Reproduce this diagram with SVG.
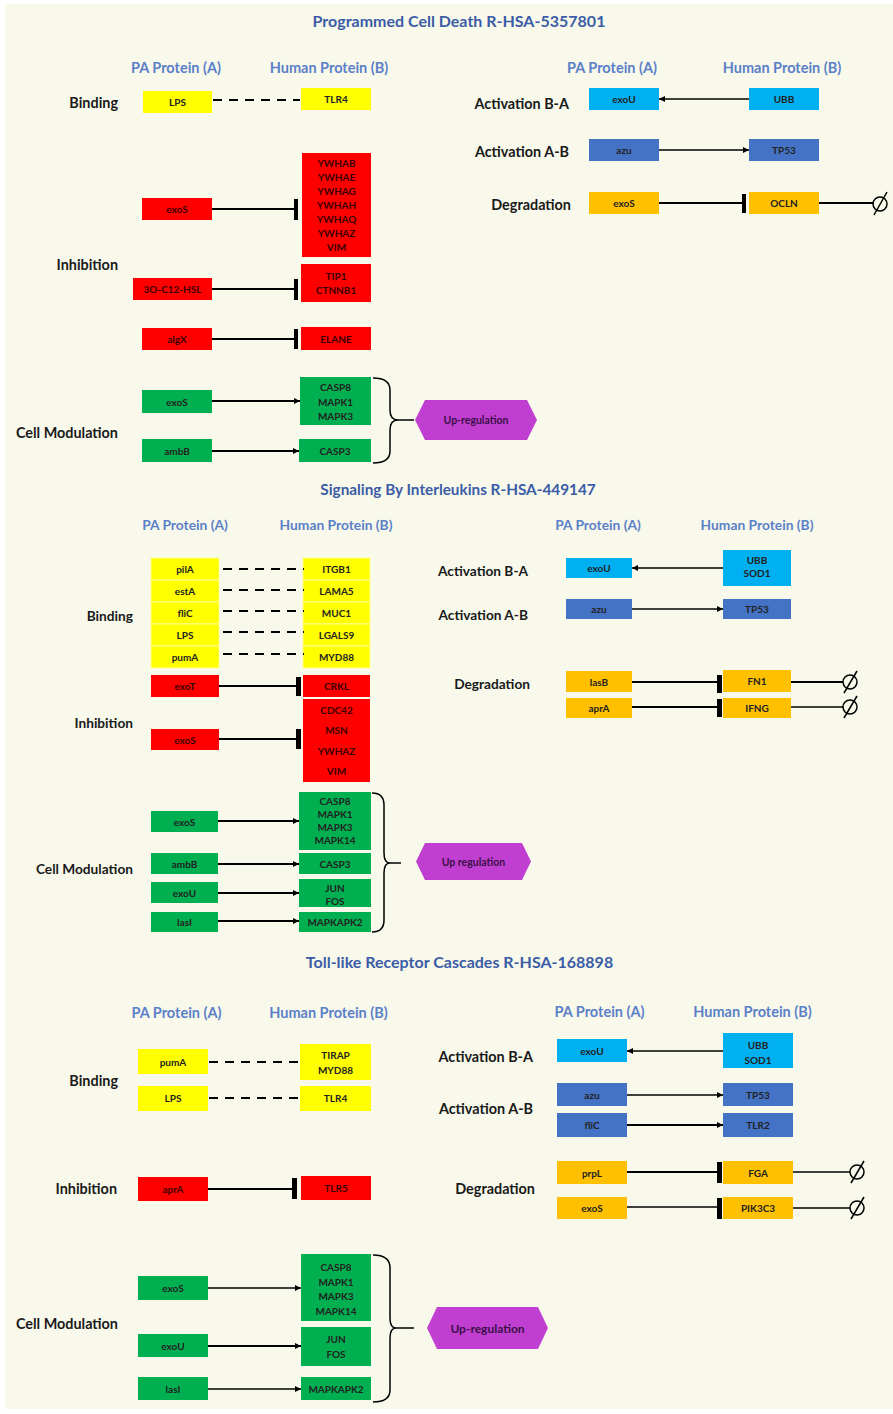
<svg xmlns="http://www.w3.org/2000/svg" width="893" height="1414" viewBox="0 0 893 1414">
<style>
.bg{fill:#f8f9eb}
.y{fill:#ffff00}.r{fill:#ff0000}.g{fill:#00b050}.lb{fill:#00b0f0}.db{fill:#4472c4}.o{fill:#ffc000}.hx{fill:#c13fd0}
.ys{fill:#ffff00;stroke:#ffff90;stroke-width:1}
text{font-family:Lato,"Open Sans","Liberation Sans",sans-serif;font-weight:bold}
.t{font-size:10px;text-anchor:middle;dominant-baseline:central;fill:#222}
.tr{font-size:10px;text-anchor:middle;dominant-baseline:central;fill:#3a0000}
.th{font-size:10.5px;text-anchor:middle;dominant-baseline:central;fill:#3a1048}
.lbl{font-size:14.4px;text-anchor:end;dominant-baseline:central;fill:#1a1a1a}
.lbl2{font-size:13.7px;text-anchor:end;dominant-baseline:central;fill:#1a1a1a}
.hd{font-size:14.5px;text-anchor:middle;dominant-baseline:central;fill:#5b80c8}
.hd2{font-size:13.8px;text-anchor:middle;dominant-baseline:central;fill:#5b80c8}
.ti{font-size:16px;text-anchor:middle;dominant-baseline:central;fill:#3b5ca6}
.ln{stroke:#000;stroke-width:2;fill:none}
.ac{stroke:#000;stroke-width:1.5;fill:none}
.dash{stroke-dasharray:9 7}
.bar{fill:#000}
.nul{stroke:#000;stroke-width:1.5;fill:none}
</style>
<defs>
<marker id="ah" viewBox="0 0 10 10" refX="10" refY="5" markerWidth="7" markerHeight="6" markerUnits="userSpaceOnUse" orient="auto"><path d="M0,0 L10,5 L0,10 z" fill="#000"/></marker>
</defs>
<rect x="0" y="0" width="893" height="1414" fill="#ffffff"/>
<rect class="bg" x="5" y="4" width="888" height="1405"/>

<!-- ========== Section 1 ========== -->
<g id="s1-labels">
<text class="ti" x="459" y="20">Programmed Cell Death R-HSA-5357801</text>
<text class="hd" x="176" y="67">PA Protein (A)</text>
<text class="hd" x="329" y="67">Human Protein (B)</text>
<text class="hd" x="612" y="67">PA Protein (A)</text>
<text class="hd" x="782" y="67">Human Protein (B)</text>
<text class="lbl" x="118" y="102">Binding</text>
<text class="lbl" x="118" y="264">Inhibition</text>
<text class="lbl" x="118" y="432">Cell Modulation</text>
<text class="lbl" x="569" y="103">Activation B-A</text>
<text class="lbl" x="569" y="151">Activation A-B</text>
<text class="lbl" x="571" y="204">Degradation</text>
</g>
<g id="s1-lps"><rect class="y" x="143" y="91" width="69" height="22"/><text class="t" x="177.5" y="102">LPS</text></g>
<g id="s1-tlr4"><rect class="y" x="301" y="88" width="70" height="22"/><text class="t" x="336" y="99">TLR4</text></g>
<g id="s1-exos-a"><rect class="r" x="142" y="198" width="70" height="22"/><text class="tr" x="177" y="209">exoS</text></g>
<g id="s1-ywha"><rect class="r" x="302" y="153" width="69" height="104"/>
<text class="tr" x="336.5" y="163">YWHAB</text><text class="tr" x="336.5" y="177">YWHAE</text><text class="tr" x="336.5" y="191">YWHAG</text><text class="tr" x="336.5" y="205">YWHAH</text><text class="tr" x="336.5" y="219">YWHAQ</text><text class="tr" x="336.5" y="233">YWHAZ</text><text class="tr" x="336.5" y="247">VIM</text></g>
<g id="s1-3oc12"><rect class="r" x="133" y="278" width="79" height="22"/><text class="tr" x="172.5" y="289">3O-C12-HSL</text></g>
<g id="s1-tip1"><rect class="r" x="301" y="264" width="70" height="38"/><text class="tr" x="336" y="276">TIP1</text><text class="tr" x="336" y="290">CTNNB1</text></g>
<g id="s1-algx"><rect class="r" x="142" y="328" width="70" height="22"/><text class="tr" x="177" y="339">algX</text></g>
<g id="s1-elane"><rect class="r" x="301" y="327" width="70" height="23"/><text class="tr" x="336" y="338.5">ELANE</text></g>
<g id="s1-exos-b"><rect class="g" x="142" y="390" width="70" height="23"/><text class="t" x="177" y="401.5">exoS</text></g>
<g id="s1-casp8"><rect class="g" x="300" y="377" width="71" height="48"/><text class="t" x="335.5" y="387">CASP8</text><text class="t" x="335.5" y="401.5">MAPK1</text><text class="t" x="335.5" y="416">MAPK3</text></g>
<g id="s1-ambb"><rect class="g" x="142" y="439" width="70" height="23"/><text class="t" x="177" y="450.5">ambB</text></g>
<g id="s1-casp3"><rect class="g" x="299" y="439" width="72" height="23"/><text class="t" x="335" y="450.5">CASP3</text></g>
<g id="s1-upreg"><polygon class="hx" points="415,420 425,400 527,400 537,420 527,440 425,440"/><text class="th" x="476" y="420">Up-regulation</text></g>
<g id="s1-exou"><rect class="lb" x="589" y="88" width="70" height="22"/><text class="t" x="624" y="99">exoU</text></g>
<g id="s1-ubb"><rect class="lb" x="749" y="88" width="70" height="22"/><text class="t" x="784" y="99">UBB</text></g>
<g id="s1-azu"><rect class="db" x="589" y="139" width="70" height="22"/><text class="t" x="624" y="150">azu</text></g>
<g id="s1-tp53"><rect class="db" x="749" y="139" width="70" height="22"/><text class="t" x="784" y="150">TP53</text></g>
<g id="s1-exos-c"><rect class="o" x="589" y="192" width="70" height="22"/><text class="t" x="624" y="203">exoS</text></g>
<g id="s1-ocln"><rect class="o" x="749" y="192" width="70" height="22"/><text class="t" x="784" y="203">OCLN</text></g>

<!-- ========== Section 2 ========== -->
<g id="s2-labels">
<text class="ti" x="458" y="489" style="font-size:15.3px">Signaling By Interleukins R-HSA-449147</text>
<text class="hd2" x="185" y="524">PA Protein (A)</text>
<text class="hd2" x="336" y="524">Human Protein (B)</text>
<text class="hd2" x="598" y="524">PA Protein (A)</text>
<text class="hd2" x="757" y="524">Human Protein (B)</text>
<text class="lbl2" x="133" y="615">Binding</text>
<text class="lbl2" x="133" y="722">Inhibition</text>
<text class="lbl2" x="133" y="868">Cell Modulation</text>
<text class="lbl2" x="528" y="570">Activation B-A</text>
<text class="lbl2" x="528" y="614">Activation A-B</text>
<text class="lbl2" x="530" y="683">Degradation</text>
</g>
<g id="s2-pila"><rect class="ys" x="151" y="558" width="68" height="22"/><text class="t" x="185" y="569">pilA</text></g>
<g id="s2-esta"><rect class="ys" x="151" y="580" width="68" height="22"/><text class="t" x="185" y="591">estA</text></g>
<g id="s2-flic"><rect class="ys" x="151" y="602" width="68" height="22"/><text class="t" x="185" y="613">fliC</text></g>
<g id="s2-lps"><rect class="ys" x="151" y="624" width="68" height="22"/><text class="t" x="185" y="635">LPS</text></g>
<g id="s2-puma"><rect class="ys" x="151" y="646" width="68" height="22"/><text class="t" x="185" y="657">pumA</text></g>
<g id="s2-itgb1"><rect class="ys" x="303" y="558" width="67" height="22"/><text class="t" x="336.5" y="569">ITGB1</text></g>
<g id="s2-lama5"><rect class="ys" x="303" y="580" width="67" height="22"/><text class="t" x="336.5" y="591">LAMA5</text></g>
<g id="s2-muc1"><rect class="ys" x="303" y="602" width="67" height="22"/><text class="t" x="336.5" y="613">MUC1</text></g>
<g id="s2-lgals9"><rect class="ys" x="303" y="624" width="67" height="22"/><text class="t" x="336.5" y="635">LGALS9</text></g>
<g id="s2-myd88"><rect class="ys" x="303" y="646" width="67" height="22"/><text class="t" x="336.5" y="657">MYD88</text></g>
<g id="s2-exot"><rect class="r" x="151" y="675" width="68" height="22"/><text class="tr" x="185" y="686">exoT</text></g>
<g id="s2-crkl"><rect class="r" x="303" y="675" width="67" height="22"/><text class="tr" x="336.5" y="686">CRKL</text></g>
<g id="s2-exos-a"><rect class="r" x="151" y="729" width="68" height="21"/><text class="tr" x="185" y="739.5">exoS</text></g>
<g id="s2-cdc42"><rect class="r" x="303" y="699" width="67" height="83"/><text class="tr" x="336.5" y="710">CDC42</text><text class="tr" x="336.5" y="730">MSN</text><text class="tr" x="336.5" y="751">YWHAZ</text><text class="tr" x="336.5" y="771">VIM</text></g>
<g id="s2-exos-b"><rect class="g" x="151" y="811" width="67" height="21"/><text class="t" x="184.5" y="821.5">exoS</text></g>
<g id="s2-casp8"><rect class="g" x="299" y="792" width="72" height="58"/><text class="t" x="335" y="801">CASP8</text><text class="t" x="335" y="814">MAPK1</text><text class="t" x="335" y="827">MAPK3</text><text class="t" x="335" y="840">MAPK14</text></g>
<g id="s2-ambb"><rect class="g" x="151" y="853" width="67" height="21"/><text class="t" x="184.5" y="863.5">ambB</text></g>
<g id="s2-casp3"><rect class="g" x="299" y="853" width="72" height="21"/><text class="t" x="335" y="863.5">CASP3</text></g>
<g id="s2-exou-b"><rect class="g" x="151" y="882" width="67" height="21"/><text class="t" x="184.5" y="892.5">exoU</text></g>
<g id="s2-jun"><rect class="g" x="299" y="879" width="72" height="28"/><text class="t" x="335" y="888">JUN</text><text class="t" x="335" y="901">FOS</text></g>
<g id="s2-lasi"><rect class="g" x="151" y="912" width="67" height="20"/><text class="t" x="184.5" y="922">lasI</text></g>
<g id="s2-mapkapk2"><rect class="g" x="299" y="912" width="72" height="20"/><text class="t" x="335" y="922">MAPKAPK2</text></g>
<g id="s2-upreg"><polygon class="hx" points="416,861.5 425,843 522,843 531,861.5 522,880 425,880"/><text class="th" x="473.5" y="861.5">Up regulation</text></g>
<g id="s2-exou"><rect class="lb" x="566" y="558" width="66" height="20"/><text class="t" x="599" y="568">exoU</text></g>
<g id="s2-ubb"><rect class="lb" x="723" y="550" width="68" height="36"/><text class="t" x="757" y="560">UBB</text><text class="t" x="757" y="573">SOD1</text></g>
<g id="s2-azu"><rect class="db" x="566" y="599" width="66" height="20"/><text class="t" x="599" y="609">azu</text></g>
<g id="s2-tp53"><rect class="db" x="723" y="599" width="68" height="20"/><text class="t" x="757" y="609">TP53</text></g>
<g id="s2-lasb"><rect class="o" x="566" y="671" width="66" height="21"/><text class="t" x="599" y="681.5">lasB</text></g>
<g id="s2-fn1"><rect class="o" x="723" y="670" width="68" height="22"/><text class="t" x="757" y="681">FN1</text></g>
<g id="s2-apra"><rect class="o" x="566" y="698" width="66" height="20"/><text class="t" x="599" y="708">aprA</text></g>
<g id="s2-ifng"><rect class="o" x="723" y="698" width="68" height="20"/><text class="t" x="757" y="708">IFNG</text></g>

<!-- ========== Section 3 ========== -->
<g id="s3-labels">
<text class="ti" x="459.5" y="961">Toll-like Receptor Cascades R-HSA-168898</text>
<text class="hd" x="176.5" y="1012">PA Protein (A)</text>
<text class="hd" x="328.5" y="1012">Human Protein (B)</text>
<text class="hd" x="599.5" y="1011">PA Protein (A)</text>
<text class="hd" x="752.5" y="1011">Human Protein (B)</text>
<text class="lbl" x="118" y="1080">Binding</text>
<text class="lbl" x="117" y="1188">Inhibition</text>
<text class="lbl" x="118" y="1323">Cell Modulation</text>
<text class="lbl" x="533" y="1056">Activation B-A</text>
<text class="lbl" x="533" y="1108">Activation A-B</text>
<text class="lbl" x="535" y="1188">Degradation</text>
</g>
<g id="s3-puma"><rect class="y" x="138" y="1049" width="70" height="25"/><text class="t" x="173" y="1062">pumA</text></g>
<g id="s3-tirap"><rect class="y" x="300" y="1044" width="71" height="36"/><text class="t" x="335.5" y="1055">TIRAP</text><text class="t" x="335.5" y="1070">MYD88</text></g>
<g id="s3-lps"><rect class="y" x="138" y="1086" width="70" height="25"/><text class="t" x="173" y="1098">LPS</text></g>
<g id="s3-tlr4"><rect class="y" x="300" y="1086" width="71" height="25"/><text class="t" x="335.5" y="1098">TLR4</text></g>
<g id="s3-apra"><rect class="r" x="138" y="1177" width="70" height="24"/><text class="tr" x="173" y="1189">aprA</text></g>
<g id="s3-tlr5"><rect class="r" x="301" y="1176" width="70" height="24"/><text class="tr" x="336" y="1188">TLR5</text></g>
<g id="s3-exou"><rect class="lb" x="557" y="1039" width="70" height="23"/><text class="t" x="592" y="1050.5">exoU</text></g>
<g id="s3-ubb"><rect class="lb" x="723" y="1033" width="70" height="35"/><text class="t" x="758" y="1045">UBB</text><text class="t" x="758" y="1060">SOD1</text></g>
<g id="s3-azu"><rect class="db" x="557" y="1083" width="70" height="23"/><text class="t" x="592" y="1094.5">azu</text></g>
<g id="s3-tp53"><rect class="db" x="723" y="1083" width="70" height="23"/><text class="t" x="758" y="1094.5">TP53</text></g>
<g id="s3-flic"><rect class="db" x="557" y="1113" width="70" height="24"/><text class="t" x="592" y="1125">fliC</text></g>
<g id="s3-tlr2"><rect class="db" x="723" y="1113" width="70" height="24"/><text class="t" x="758" y="1125">TLR2</text></g>
<g id="s3-prpl"><rect class="o" x="557" y="1161" width="70" height="23"/><text class="t" x="592" y="1172.5">prpL</text></g>
<g id="s3-fga"><rect class="o" x="723" y="1161" width="70" height="23"/><text class="t" x="758" y="1172.5">FGA</text></g>
<g id="s3-exos-a"><rect class="o" x="557" y="1197" width="70" height="22"/><text class="t" x="592" y="1208">exoS</text></g>
<g id="s3-pik3c3"><rect class="o" x="723" y="1197" width="70" height="22"/><text class="t" x="758" y="1208">PIK3C3</text></g>
<g id="s3-exos-b"><rect class="g" x="138" y="1276" width="70" height="24"/><text class="t" x="173" y="1288">exoS</text></g>
<g id="s3-casp8"><rect class="g" x="301" y="1254" width="70" height="67"/><text class="t" x="336" y="1267">CASP8</text><text class="t" x="336" y="1282">MAPK1</text><text class="t" x="336" y="1296">MAPK3</text><text class="t" x="336" y="1311">MAPK14</text></g>
<g id="s3-exou-b"><rect class="g" x="138" y="1334" width="70" height="23"/><text class="t" x="173" y="1345.5">exoU</text></g>
<g id="s3-jun"><rect class="g" x="301" y="1327" width="70" height="39"/><text class="t" x="336" y="1339">JUN</text><text class="t" x="336" y="1354">FOS</text></g>
<g id="s3-lasi"><rect class="g" x="138" y="1377" width="70" height="23"/><text class="t" x="173" y="1388.5">lasI</text></g>
<g id="s3-mapkapk2"><rect class="g" x="301" y="1377" width="70" height="23"/><text class="t" x="336" y="1388.5">MAPKAPK2</text></g>
<g id="s3-upreg"><polygon class="hx" points="427,1328 437,1307 538,1307 548,1328 538,1349 437,1349"/><text class="th" x="487.5" y="1328" style="font-size:12px">Up-regulation</text></g>

<!-- ========== Connectors ========== -->
<g id="connectors">
<!-- section 1 -->
<line class="ln dash" x1="213" y1="100" x2="300" y2="100"/>
<line class="ln" x1="212" y1="209" x2="295" y2="209"/><rect class="bar" x="294" y="199" width="4" height="21"/>
<line class="ln" x1="212" y1="289" x2="295" y2="289"/><rect class="bar" x="294" y="279" width="4" height="21"/>
<line class="ln" x1="212" y1="339" x2="295" y2="339"/><rect class="bar" x="294" y="329" width="4" height="20"/>
<line class="ln" x1="212" y1="401" x2="300" y2="401" marker-end="url(#ah)"/>
<line class="ln" x1="212" y1="451" x2="299" y2="451" marker-end="url(#ah)"/>
<path class="ac" d="M373,378 Q390,378 390,390 L390,410 Q390,420 398,420 Q390,420 390,430 L390,451 Q390,463 373,463"/>
<line class="ac" x1="398" y1="420" x2="414" y2="420"/>
<line class="ac" x1="749" y1="99" x2="659" y2="99" marker-end="url(#ah)"/>
<line class="ac" x1="659" y1="150" x2="749" y2="150" marker-end="url(#ah)"/>
<line class="ln" x1="659" y1="203" x2="743" y2="203"/><rect class="bar" x="742" y="194" width="4" height="19"/>
<line class="ln" x1="819" y1="203" x2="874" y2="203"/>
<circle class="nul" cx="880" cy="204" r="7"/><line class="nul" x1="874" y1="215" x2="887" y2="192"/>
<!-- section 2 -->
<line class="ln dash" x1="223" y1="569" x2="304" y2="569"/>
<line class="ln dash" x1="223" y1="590" x2="304" y2="590"/>
<line class="ln dash" x1="223" y1="611" x2="304" y2="611"/>
<line class="ln dash" x1="223" y1="632" x2="304" y2="632"/>
<line class="ln dash" x1="223" y1="654" x2="304" y2="654"/>
<line class="ln" x1="219" y1="686" x2="297" y2="686"/><rect class="bar" x="296" y="677" width="5" height="19"/>
<line class="ln" x1="219" y1="739" x2="297" y2="739"/><rect class="bar" x="296" y="729" width="5" height="20"/>
<line class="ln" x1="218" y1="821" x2="299" y2="821" marker-end="url(#ah)"/>
<line class="ln" x1="218" y1="864" x2="299" y2="864" marker-end="url(#ah)"/>
<line class="ln" x1="218" y1="893" x2="299" y2="893" marker-end="url(#ah)"/>
<line class="ln" x1="218" y1="921" x2="299" y2="921" marker-end="url(#ah)"/>
<path class="ac" d="M372,793 Q384,793 384,805 L384,853 Q384,863 390,863 Q384,863 384,873 L384,920 Q384,932 372,932"/>
<line class="ac" x1="390" y1="863" x2="401" y2="863"/>
<line class="ac" x1="723" y1="568" x2="632" y2="568" marker-end="url(#ah)"/>
<line class="ac" x1="632" y1="609" x2="723" y2="609" marker-end="url(#ah)"/>
<line class="ln" x1="632" y1="682" x2="718" y2="682"/><rect class="bar" x="717" y="675" width="5" height="18"/>
<line class="ln" x1="632" y1="707" x2="718" y2="707"/><rect class="bar" x="717" y="699" width="5" height="18"/>
<line class="ln" x1="791" y1="682" x2="843" y2="682"/>
<circle class="nul" cx="850" cy="682" r="7"/><line class="nul" x1="844" y1="693" x2="857" y2="671"/>
<line class="ac" x1="791" y1="707" x2="843" y2="707"/>
<circle class="nul" cx="850" cy="707" r="7"/><line class="nul" x1="844" y1="718" x2="857" y2="696"/>
<!-- section 3 -->
<line class="ln dash" x1="209" y1="1062" x2="300" y2="1062"/>
<line class="ln dash" x1="209" y1="1098" x2="300" y2="1098"/>
<line class="ln" x1="208" y1="1189" x2="293" y2="1189"/><rect class="bar" x="292" y="1178" width="5" height="21"/>
<line class="ac" x1="723" y1="1051" x2="627" y2="1051" marker-end="url(#ah)"/>
<line class="ac" x1="627" y1="1095" x2="723" y2="1095" marker-end="url(#ah)"/>
<line class="ln" x1="627" y1="1125" x2="723" y2="1125" marker-end="url(#ah)"/>
<line class="ln" x1="627" y1="1172" x2="718" y2="1172"/><rect class="bar" x="717" y="1162" width="5" height="21"/>
<line class="ac" x1="627" y1="1207" x2="718" y2="1207"/><rect class="bar" x="717" y="1198" width="5" height="21"/>
<line class="ac" x1="793" y1="1172" x2="850" y2="1172"/>
<circle class="nul" cx="857" cy="1172" r="7"/><line class="nul" x1="851" y1="1183" x2="864" y2="1161"/>
<line class="ac" x1="793" y1="1208" x2="850" y2="1208"/>
<circle class="nul" cx="857" cy="1208" r="7"/><line class="nul" x1="851" y1="1219" x2="864" y2="1197"/>
<line class="ac" x1="208" y1="1288" x2="301" y2="1288" marker-end="url(#ah)"/>
<line class="ln" x1="208" y1="1346" x2="301" y2="1346" marker-end="url(#ah)"/>
<line class="ac" x1="208" y1="1389" x2="301" y2="1389" marker-end="url(#ah)"/>
<path class="ac" d="M373,1255 Q390,1255 390,1268 L390,1318 Q390,1328 396,1328 Q390,1328 390,1338 L390,1390 Q390,1402 373,1402"/>
<line class="ac" x1="396" y1="1328" x2="414" y2="1328"/>
</g>
</svg>
